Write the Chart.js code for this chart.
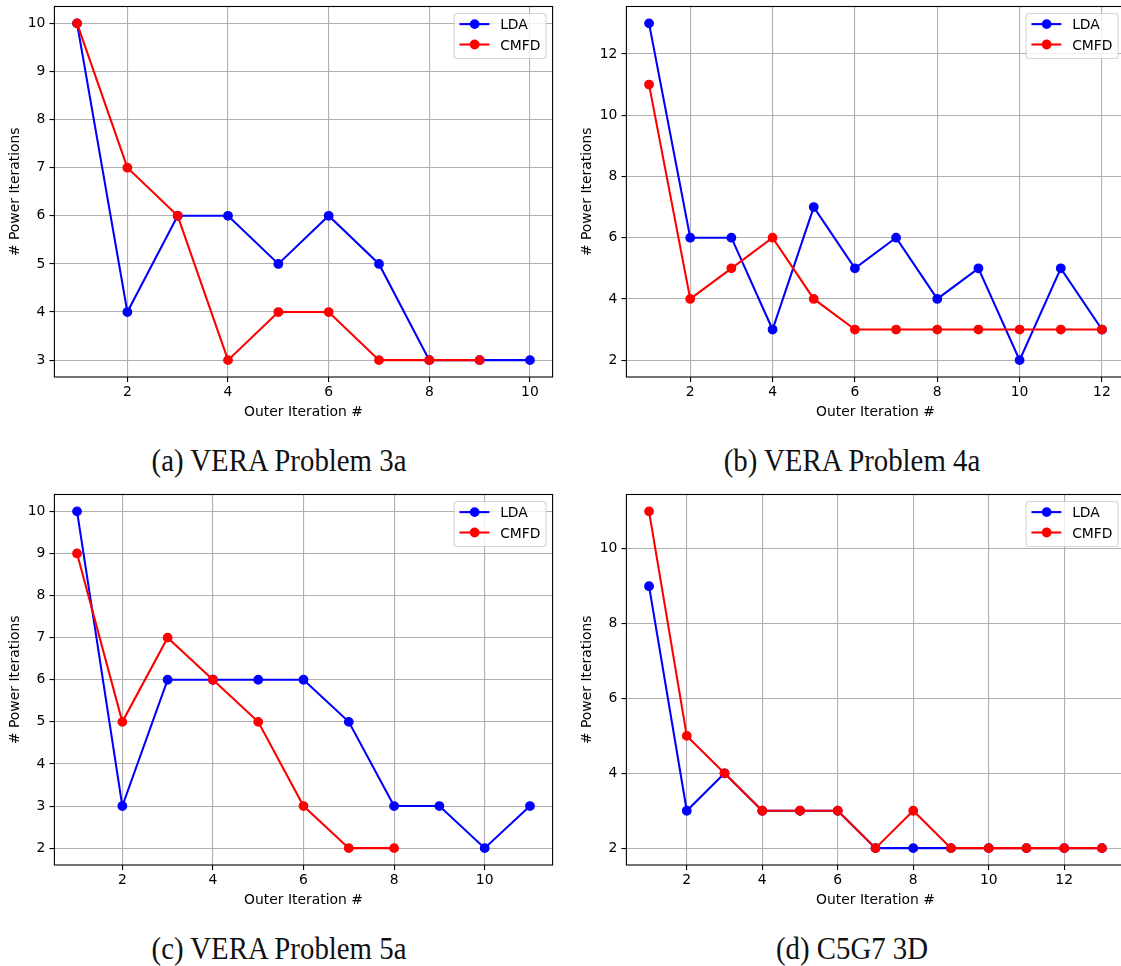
<!DOCTYPE html>
<html>
<head>
<meta charset="utf-8">
<script src="https://cdn.jsdelivr.net/npm/chart.js@4.4.1/dist/chart.umd.min.js"></script>
<style>
html, body { margin:0; padding:0; background:#fff; overflow:hidden; width:1121px; height:966px; }
.panel { position:absolute; width:560px; height:430px; }
.panel canvas { display:block; }
.cap { position:absolute; width:560px; text-align:center; font-family:'Liberation Serif','Times New Roman',serif;
       font-size:31px; line-height:31px; color:#111; white-space:nowrap; transform:scaleX(0.93); transform-origin:center; }
</style>
</head>
<body>
<div class="panel" style="left:0px;top:0px"><canvas id="cA" width="560" height="430"></canvas></div>
<div class="panel" style="left:572px;top:0px"><canvas id="cB" width="560" height="430"></canvas></div>
<div class="panel" style="left:0px;top:488px"><canvas id="cC" width="560" height="430"></canvas></div>
<div class="panel" style="left:572px;top:488px"><canvas id="cD" width="560" height="430"></canvas></div>
<div class="cap" id="capA" style="left:-1px;top:445px"></div>
<div class="cap" id="capB" style="left:572px;top:445px"></div>
<div class="cap" id="capC" style="left:-1px;top:933px"></div>
<div class="cap" id="capD" style="left:572px;top:933px"></div>
<script>
// ---------------- data ----------------
const seriesNames = ['LDA', 'CMFD'];
const xTitle = 'Outer Iteration #';
const yTitle = '# Power Iterations';

const outerIterA = [1, 2, 3, 4, 5, 6, 7, 8, 9, 10];
const ldaA  = [10, 4, 6, 6, 5, 6, 5, 3, 3, 3];
const cmfdA = [10, 7, 6, 3, 4, 4, 3, 3, 3];
const xTicksA = [2, 4, 6, 8, 10];
const yTicksA = [3, 4, 5, 6, 7, 8, 9, 10];
const captionA = '(a) VERA Problem 3a';

const outerIterB = [1, 2, 3, 4, 5, 6, 7, 8, 9, 10, 11, 12];
const ldaB  = [13, 6, 6, 3, 7, 5, 6, 4, 5, 2, 5, 3];
const cmfdB = [11, 4, 5, 6, 4, 3, 3, 3, 3, 3, 3, 3];
const xTicksB = [2, 4, 6, 8, 10, 12];
const yTicksB = [2, 4, 6, 8, 10, 12];
const captionB = '(b) VERA Problem 4a';

const outerIterC = [1, 2, 3, 4, 5, 6, 7, 8, 9, 10, 11];
const ldaC  = [10, 3, 6, 6, 6, 6, 5, 3, 3, 2, 3];
const cmfdC = [9, 5, 7, 6, 5, 3, 2, 2];
const xTicksC = [2, 4, 6, 8, 10];
const yTicksC = [2, 3, 4, 5, 6, 7, 8, 9, 10];
const captionC = '(c) VERA Problem 5a';

const outerIterD = [1, 2, 3, 4, 5, 6, 7, 8, 9, 10, 11, 12, 13];
const ldaD  = [9, 3, 4, 3, 3, 3, 2, 2, 2, 2, 2, 2, 2];
const cmfdD = [11, 5, 4, 3, 3, 3, 2, 3, 2, 2, 2, 2, 2];
const xTicksD = [2, 4, 6, 8, 10, 12];
const yTicksD = [2, 4, 6, 8, 10];
const captionD = '(d) C5G7 3D';

// ---------------- style ----------------
const FONT = 'DejaVu Sans';
const FS = 13.9;
const COLORS = ['#0000ff', '#ff0000'];
Chart.defaults.font.family = FONT;
Chart.defaults.font.size = FS;
Chart.defaults.color = '#000';

const spinePlugin = {
  id: 'spines',
  afterDatasetsDraw(chart) {
    const {ctx, chartArea: a} = chart;
    ctx.save();
    ctx.strokeStyle = '#000';
    ctx.lineWidth = 1.1;
    ctx.strokeRect(a.left, a.top, a.right - a.left, a.bottom - a.top);
    ctx.restore();
  }
};

const legendPlugin = {
  id: 'mplLegend',
  afterDraw(chart) {
    const {ctx, chartArea: a} = chart;
    const ds = chart.data.datasets;
    ctx.save();
    ctx.font = FS + 'px "' + FONT + '"';
    let maxW = 0;
    ds.forEach(d => { maxW = Math.max(maxW, ctx.measureText(d.label).width); });
    const W = 46 + maxW + 5.6, H = 45;
    const right = a.right - 6.5, top = a.top + 7, left = right - W;
    const r = 2.8;
    ctx.beginPath();
    ctx.moveTo(left + r, top);
    ctx.lineTo(right - r, top); ctx.arcTo(right, top, right, top + r, r);
    ctx.lineTo(right, top + H - r); ctx.arcTo(right, top + H, right - r, top + H, r);
    ctx.lineTo(left + r, top + H); ctx.arcTo(left, top + H, left, top + H - r, r);
    ctx.lineTo(left, top + r); ctx.arcTo(left, top, left + r, top, r);
    ctx.closePath();
    ctx.fillStyle = 'rgba(255,255,255,0.8)';
    ctx.fill();
    ctx.strokeStyle = 'rgba(204,204,204,0.8)';
    ctx.lineWidth = 1.1;
    ctx.stroke();
    ds.forEach((d, i) => {
      const y = top + 10.6 + i * 20.4;
      ctx.strokeStyle = d.borderColor;
      ctx.lineWidth = d.borderWidth;
      ctx.beginPath();
      ctx.moveTo(left + 5.3, y); ctx.lineTo(left + 35.3, y);
      ctx.stroke();
      ctx.beginPath();
      ctx.arc(left + 20.5, y, d.pointRadius, 0, Math.PI * 2);
      ctx.fillStyle = d.pointBackgroundColor;
      ctx.fill();
      ctx.lineWidth = d.pointBorderWidth;
      ctx.strokeStyle = d.pointBorderColor;
      ctx.stroke();
      ctx.fillStyle = '#000';
      ctx.textBaseline = 'alphabetic';
      ctx.textAlign = 'left';
      ctx.fillText(d.label, left + 46, y + 5.0);
    });
    ctx.restore();
  }
};

function pad5(lo, hi) { const m = (hi - lo) * 0.05; return [lo - m, hi + m]; }

function makeChart(id, iters, lda, cmfd, xTicks, yTicks) {
  const toPts = vals => vals.map((v, i) => ({x: iters[i], y: v}));
  const xs = iters.slice(0, Math.max(lda.length, cmfd.length));
  const ys = lda.concat(cmfd);
  const [xMin, xMax] = pad5(Math.min(...xs), Math.max(...xs));
  const [yMin, yMax] = pad5(Math.min(...ys), Math.max(...ys));
  const mk = (label, vals, color, order) => ({
    label, data: toPts(vals), borderColor: color, backgroundColor: color,
    borderWidth: 2.08, pointRadius: 4.2, pointBorderWidth: 1.4,
    pointBackgroundColor: color, pointBorderColor: color,
    pointHoverRadius: 4.2, tension: 0, fill: false, order
  });
  const grid = {color: '#b0b0b0', lineWidth: 1.1, tickColor: '#000', tickLength: 4.9, tickWidth: 1.1, drawTicks: true};
  return new Chart(document.getElementById(id), {
    type: 'line',
    data: { datasets: [ mk(seriesNames[0], lda, COLORS[0], 1), mk(seriesNames[1], cmfd, COLORS[1], 0) ] },
    options: {
      responsive: false, animation: false, devicePixelRatio: 1,
      layout: { padding: {left: 0, top: 6.5, right: 7.4, bottom: 0} },
      plugins: { legend: {display: false}, tooltip: {enabled: false} },
      scales: {
        x: {
          type: 'linear', min: xMin, max: xMax, bounds: 'data',
          afterBuildTicks: s => { s.ticks = xTicks.map(v => ({value: v})); },
          afterFit: s => { s.height = 53; s.paddingLeft = 0; s.paddingRight = 0; },
          ticks: { padding: 2.5, color: '#000', maxRotation: 0, autoSkip: false, callback: v => String(v) },
          grid, border: {display: false},
          title: { display: true, text: xTitle, color: '#000', padding: {top: 0, bottom: 9.5} }
        },
        y: {
          type: 'linear', min: yMin, max: yMax, bounds: 'data',
          afterBuildTicks: s => { s.ticks = yTicks.map(v => ({value: v})); },
          afterFit: s => { s.width = 54.4; s.paddingTop = 0; s.paddingBottom = 0; },
          ticks: { padding: 4.1, color: '#000', autoSkip: false, callback: v => String(v) },
          grid, border: {display: false},
          title: { display: true, text: yTitle, color: '#000', padding: {top: 7, bottom: 0} }
        }
      }
    },
    plugins: [spinePlugin, legendPlugin]
  });
}

makeChart('cA', outerIterA, ldaA, cmfdA, xTicksA, yTicksA);
makeChart('cB', outerIterB, ldaB, cmfdB, xTicksB, yTicksB);
makeChart('cC', outerIterC, ldaC, cmfdC, xTicksC, yTicksC);
makeChart('cD', outerIterD, ldaD, cmfdD, xTicksD, yTicksD);
document.getElementById('capA').textContent = captionA;
document.getElementById('capB').textContent = captionB;
document.getElementById('capC').textContent = captionC;
document.getElementById('capD').textContent = captionD;
</script>
</body>
</html>
